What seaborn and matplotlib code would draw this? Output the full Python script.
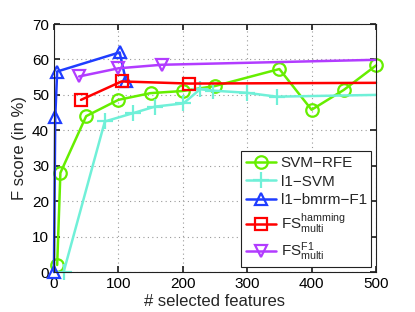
import matplotlib
matplotlib.use("Agg")
import matplotlib.pyplot as plt
import seaborn as sns
import pandas as pd

sns.set_theme(style="white")
plt.rcParams['font.family'] = ['Liberation Sans', 'DejaVu Sans']
plt.rcParams['mathtext.fontset'] = 'custom'
plt.rcParams['mathtext.rm'] = 'Liberation Sans'
plt.rcParams['mathtext.it'] = 'Liberation Sans'

# data
svm_rfe_x = [5, 10, 50, 100, 150, 200, 250, 350, 400, 450, 500]
svm_rfe_y = [2, 28, 44, 48.6, 50.5, 51.1, 52.5, 57.3, 45.8, 51.4, 58.3]

l1svm_x = [15, 79, 122, 157, 201, 227, 247, 299, 346, 500]
l1svm_y = [0, 42.5, 44.8, 46.7, 47.6, 51.6, 51.2, 50.6, 49.5, 50.0]

bmrm_x = [0, 2, 5, 102, 112]
bmrm_y = [0, 43.7, 56.6, 62.0, 53.8]

fsham_x = [42, 105, 210, 500]
fsham_y = [48.6, 53.8, 53.2, 53.4]

fsf1_x = [39, 100, 167, 500]
fsf1_y = [55.2, 57.5, 58.5, 59.9]

labels = ['SVM\u2212RFE', 'l1\u2212SVM', 'l1\u2212bmrm\u2212F1',
          r'FS$^{\mathrm{hamming}}_{\mathrm{multi}}$', r'FS$^{\mathrm{F1}}_{\mathrm{multi}}$']
xticks = [0, 100, 200, 300, 400, 500]
yticks = [0, 10, 20, 30, 40, 50, 60, 70]

series = [
    (svm_rfe_x, svm_rfe_y, '#66ee00', 'o', None),
    (l1svm_x, l1svm_y, '#70f0d8', '+', list(range(len(l1svm_x) - 1))),
    (bmrm_x, bmrm_y, '#1f3dff', '^', None),
    (fsham_x, fsham_y, '#ff0000', 's', list(range(len(fsham_x) - 1))),
    (fsf1_x, fsf1_y, '#b23cff', 'v', list(range(len(fsf1_x) - 1))),
]

fig = plt.figure(figsize=(4.15, 3.12), dpi=100)
ax = fig.add_axes([0.130, 0.128, 0.776, 0.795])

for (xs, ys, c, m, me), lab in zip(series, labels):
    df = pd.DataFrame({'x': xs, 'y': ys})
    ms = 11 if m == '+' else 9
    sns.lineplot(data=df, x='x', y='y', ax=ax, sort=False, estimator=None,
                 color=c, lw=1.8, marker=m, markersize=ms, markevery=me,
                 markerfacecolor='none' if m != '+' else c,
                 markeredgecolor=c, markeredgewidth=1.6, label=lab, clip_on=False)

ax.set_xlim(0, 500)
ax.set_ylim(0, 70)
ax.set_xticks(xticks)
ax.set_yticks(yticks)
ax.tick_params(direction='in', length=4, labelsize=11, top=True, right=True,
               bottom=True, left=True, colors='#222222', labelcolor='black')
ax.grid(True, linestyle=(0, (1, 3)), color='#999999', lw=0.8)
for s in ax.spines.values():
    s.set_color('#222222')
    s.set_linewidth(0.8)
ax.set_xlabel('# selected features', fontsize=12, labelpad=2)
ax.set_ylabel('F score (in %)', fontsize=12, labelpad=4)

leg = ax.legend(loc='lower right', fontsize=11, frameon=True, fancybox=False,
                edgecolor='#222222', framealpha=1, handlelength=2.0,
                borderpad=0.3, labelspacing=0.3, handletextpad=0.3,
                borderaxespad=0.3)
leg.get_frame().set_linewidth(0.8)

fig.savefig('out.png', dpi=100)
